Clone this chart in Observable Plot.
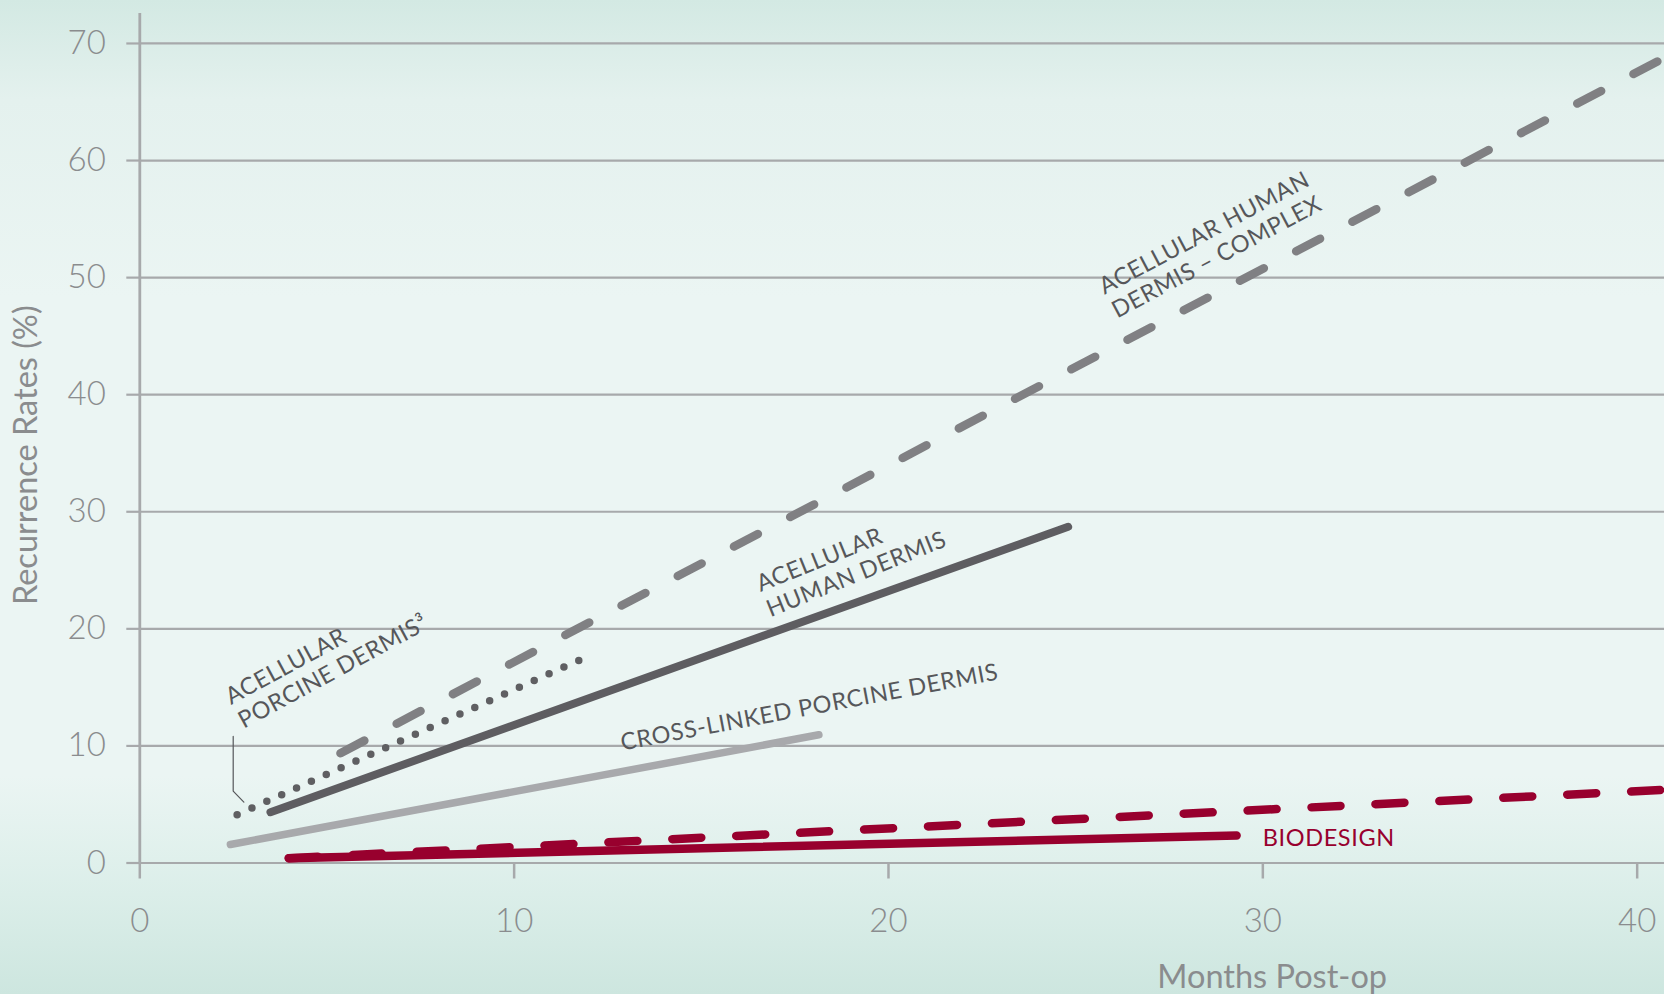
<!DOCTYPE html>
<html>
<head>
<meta charset="utf-8">
<script src="https://cdn.jsdelivr.net/npm/d3@7"></script>
<script src="https://cdn.jsdelivr.net/npm/@observablehq/plot@0.6"></script>
<style>
  html, body { margin: 0; padding: 0; }
  body {
    width: 1664px; height: 994px; overflow: hidden;
    background: linear-gradient(to bottom, #d3e9e3 0%, #e4f1ee 10%, #ebf5f3 30%, #ebf5f3 78%, #dbeee9 90%, #cde6df 100%);
  }
  #chart svg { display: block; }
  .annot text { letter-spacing: 0.6px; }
</style>
</head>
<body>
<div id="chart"></div>
<script>
// ---- data ----
const xTicks = [0, 10, 20, 30, 40];
const yTicks = [0, 10, 20, 30, 40, 50, 60, 70];

const seriesNames = [
  "Acellular human dermis – complex",
  "Acellular porcine dermis",
  "Acellular human dermis",
  "Cross-linked porcine dermis",
  "Biodesign (dashed)",
  "Biodesign"
];
const startMonths = [5.36, 2.60, 3.49, 2.42, 3.98, 3.98];
const startRates  = [9.38, 4.12, 4.34, 1.58, 0.41, 0.41];
const endMonths   = [40.73, 11.98, 24.80, 18.14, 40.73, 29.30];
const endRates    = [68.78, 17.67, 28.72, 10.95, 6.25, 2.35];

const labelTexts  = ["ACELLULAR HUMAN\nDERMIS – COMPLEX", "ACELLULAR\nHUMAN DERMIS", "ACELLULAR\nPORCINE DERMIS³", "CROSS-LINKED PORCINE DERMIS"];
const labelMonths = [26.11, 16.85, 2.78, 12.89];
const labelRates  = [46.5, 21.0, 11.47, 9.61];
const labelAngles = [-28, -22, -28.5, -10.7];

const biodesignLabel = ["BIODESIGN"];
const biodesignLabelMonth = [30.0];
const biodesignLabelRate = [1.43];

const leaderMonths = [2.495, 2.495, 2.78];
const leaderRates  = [10.81, 6.14, 5.2];

const xLabel = "Months Post-op";
const yLabel = "Recurrence Rates (%)";

// ---- styles ----
const styles = [
  {stroke: "#808083", strokeWidth: 8.5, strokeDasharray: "27 36.5"},
  {stroke: "#5f5f62", strokeWidth: 7.5, strokeDasharray: "0 16.3"},
  {stroke: "#5e5d61", strokeWidth: 8},
  {stroke: "#a8a9ac", strokeWidth: 7.5},
  {stroke: "#98002e", strokeWidth: 8.5, strokeDasharray: "29 35"},
  {stroke: "#98002e", strokeWidth: 8.5}
];
const drawOrder = [3, 2, 0, 1, 5, 4];

const rows = seriesNames.map((name, i) => [
  {series: name, month: startMonths[i], rate: startRates[i]},
  {series: name, month: endMonths[i], rate: endRates[i]}
]);
const labels = labelTexts.map((t, i) => ({text: t, month: labelMonths[i], rate: labelRates[i], angle: labelAngles[i]}));
const leader = leaderMonths.map((m, i) => ({month: m, rate: leaderRates[i]}));

const gridColor = "#a7a9ab";
const tickText = "#8a8c8e";
const labelColor = "#56575a";

const chart = Plot.plot({
  width: 1664,
  height: 994,
  marginLeft: 139.3,
  marginRight: 0,
  marginTop: 13,
  marginBottom: 131.5,
  x: {domain: [0, 40.73]},
  y: {domain: [0, 72.56]},
  style: {fontFamily: "Lato, 'Open Sans', sans-serif", background: "transparent", overflow: "visible"},
  marks: [
    Plot.gridY(yTicks, {stroke: gridColor, strokeOpacity: 1, strokeWidth: 2.2}),
    Plot.axisY(yTicks, {tickSize: 13, tickPadding: 21, fontSize: 33, fontWeight: 300, fill: tickText, stroke: gridColor, strokeWidth: 2.2, label: null}),
    Plot.axisX(xTicks, {tickSize: 16, tickPadding: 30, fontSize: 33, fontWeight: 300, fill: tickText, stroke: gridColor, strokeWidth: 2.5, label: null}),
    Plot.ruleX([0], {stroke: gridColor, strokeWidth: 2.8}),
    ...drawOrder.map(i => Plot.line(rows[i], {x: "month", y: "rate", strokeLinecap: "round", ...styles[i]})),
    Plot.line(leader, {x: "month", y: "rate", stroke: labelColor, strokeWidth: 1.2}),
    Plot.text(labels, {x: "month", y: "rate", text: "text", rotate: "angle", textAnchor: "start", lineAnchor: "bottom", lineHeight: 1.15, fontSize: 23.5, fill: labelColor, className: "annot"}),
    Plot.text(biodesignLabel, {x: biodesignLabelMonth, y: biodesignLabelRate, text: d => d, textAnchor: "start", lineAnchor: "bottom", fontSize: 23.5, fill: "#98002e", className: "annot"}),
    Plot.text([xLabel], {x: [30.25], frameAnchor: "bottom", dy: 124.5, lineAnchor: "bottom", textAnchor: "middle", fontSize: 32.5, fill: tickText}),
    Plot.text([yLabel], {frameAnchor: "left", dx: -113, dy: 17, rotate: -90, textAnchor: "middle", lineAnchor: "middle", fontSize: 32.5, fill: tickText})
  ]
});
document.getElementById("chart").append(chart);
</script>
</body>
</html>
